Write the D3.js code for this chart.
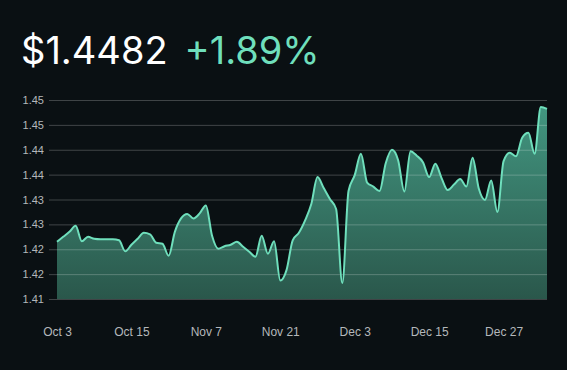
<!DOCTYPE html>
<html>
<head>
<meta charset="utf-8">
<script src="https://cdn.jsdelivr.net/npm/d3@7"></script>
<style>
  html, body { margin: 0; padding: 0; background: #0a1013; }
  svg { display: block; }
</style>
</head>
<body>
<svg id="chart"></svg>
<script>
// Daily closing price, one value per trading day (Oct 3 -> Jan 3)
const prices = [
  1.4215, 1.4225, 1.4235, 1.4247, 1.4216, 1.4225, 1.4221, 1.4220, 1.4220, 1.4220,
  1.4218, 1.4196, 1.4209, 1.4221, 1.4233, 1.4230, 1.4213, 1.4211, 1.4187, 1.4235,
  1.4262, 1.4271, 1.4262, 1.4272, 1.4288, 1.4227, 1.4201, 1.4206, 1.4209, 1.4215,
  1.4205, 1.4195, 1.4185, 1.4227, 1.4191, 1.4216, 1.4137, 1.4158, 1.4218, 1.4233,
  1.4258, 1.4291, 1.4345, 1.4323, 1.4301, 1.4281, 1.4132, 1.4317, 1.4349, 1.4392,
  1.4334, 1.4326, 1.4317, 1.4373, 1.4400, 1.4379, 1.4316, 1.4397, 1.4388, 1.4375,
  1.4345, 1.4372, 1.4343, 1.4319, 1.4330, 1.4341, 1.4326, 1.4384, 1.4322, 1.4299,
  1.4338, 1.4275, 1.4377, 1.4394, 1.4387, 1.4424, 1.4434, 1.4392, 1.4486, 1.4482
];

// x axis labels, one every 12 points
const xTickIndex = [0, 12, 24, 36, 48, 60, 72];
const xTickLabels = ["Oct 3", "Oct 15", "Nov 7", "Nov 21", "Dec 3", "Dec 15", "Dec 27"];

// y axis ticks as printed on the chart
const yTicks = [1.45, 1.445, 1.44, 1.435, 1.43, 1.425, 1.42, 1.415, 1.41];
const yTickLabels = ["1.45", "1.45", "1.44", "1.44", "1.43", "1.43", "1.42", "1.42", "1.41"];

const headerPrice = "$1.4482";
const headerChange = "+1.89%";

const width = 567, height = 370;
const margin = { top: 100, right: 20, bottom: 71, left: 57 };
const mint = "#6fdfbc";

const svg = d3.select("#chart")
  .attr("width", width)
  .attr("height", height);

svg.append("rect")
  .attr("width", width)
  .attr("height", height)
  .attr("fill", "#0a1013");

// header
const header = svg.append("text")
  .attr("x", 21)
  .attr("y", 64)
  .style("font-family", "Inter, 'Open Sans', sans-serif")
  .style("font-size", "38px")
  .style("font-weight", 400);
header.append("tspan").attr("fill", "#ffffff").text(headerPrice);
header.append("tspan").attr("fill", mint).attr("dx", 17).text(headerChange);

// scales
const x = d3.scaleLinear()
  .domain([0, prices.length - 1])
  .range([margin.left, width - margin.right]);

const y = d3.scaleLinear()
  .domain([1.41, 1.45])
  .range([height - margin.bottom, margin.top]);

// gradient for the area
const defs = svg.append("defs");
const grad = defs.append("linearGradient")
  .attr("id", "areaGrad")
  .attr("gradientUnits", "userSpaceOnUse")
  .attr("x1", 0).attr("x2", 0)
  .attr("y1", y(1.45)).attr("y2", y(1.41));
grad.append("stop").attr("offset", "0%").attr("stop-color", "#439882");
grad.append("stop").attr("offset", "100%").attr("stop-color", "#2a574b");

const area = d3.area()
  .x((d, i) => x(i))
  .y0(y(1.41))
  .y1(d => y(d))
  .curve(d3.curveMonotoneX);

const line = d3.line()
  .x((d, i) => x(i))
  .y(d => y(d))
  .curve(d3.curveMonotoneX);

svg.append("path")
  .datum(prices)
  .attr("d", area)
  .attr("fill", "url(#areaGrad)");

// y axis with gridlines
const yAxis = svg.append("g")
  .attr("transform", `translate(${ margin.left }, 0)`)
  .call(d3.axisLeft(y)
    .tickValues(yTicks)
    .tickFormat((d, i) => yTickLabels[i])
    .tickSize(-(width - margin.left - margin.right))
    .tickPadding(13));

yAxis.select(".domain").remove();
yAxis.selectAll(".tick line")
  .attr("x1", -8)
  .attr("stroke", "#ffffff")
  .attr("stroke-opacity", 0.22);
yAxis.selectAll(".tick text")
  .attr("fill", "#b4b8bb")
  .style("font-family", "'Liberation Sans', Arial, sans-serif")
  .style("font-size", "11px");

svg.append("path")
  .datum(prices)
  .attr("d", line)
  .attr("fill", "none")
  .attr("stroke", mint)
  .attr("stroke-width", 2);

// x axis labels
const xAxis = svg.append("g")
  .attr("transform", `translate(0, ${ height - margin.bottom })`)
  .call(d3.axisBottom(x)
    .tickValues(xTickIndex)
    .tickFormat((d, i) => xTickLabels[i])
    .tickSize(0)
    .tickPadding(28));

xAxis.select(".domain").remove();
xAxis.selectAll(".tick text")
  .attr("fill", "#b4b8bb")
  .style("font-family", "'Liberation Sans', Arial, sans-serif")
  .style("font-size", "12px");
</script>
</body>
</html>
